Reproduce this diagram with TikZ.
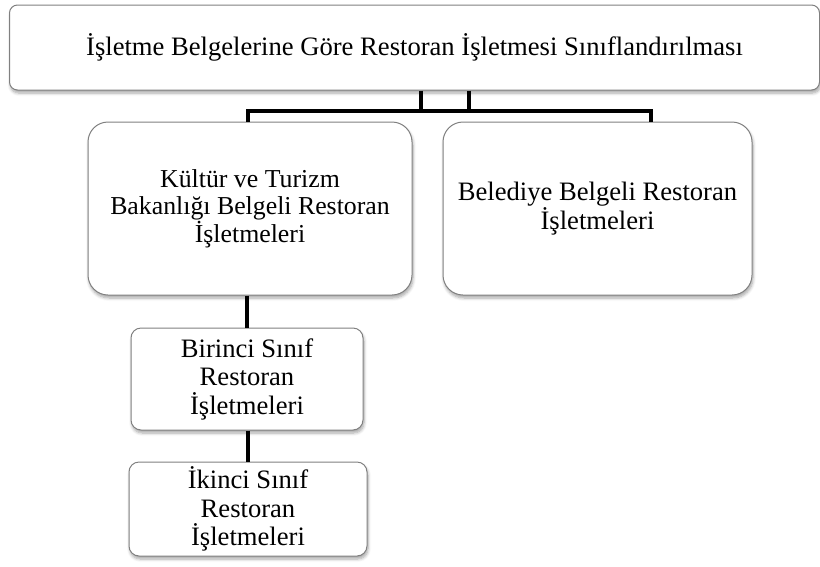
\documentclass[tikz,border=0pt]{standalone}
\usepackage{fontspec}
\setmainfont{Liberation Serif}
\usetikzlibrary{shadows.blur}
\begin{document}
\begin{tikzpicture}[x=1pt,y=-1pt,
  box/.style={draw=black!50, line width=1pt, fill=white, align=center, inner sep=0pt,
    font=\fontsize{26.6}{28.5}\selectfont,
    blur shadow={shadow xshift=1pt, shadow yshift=-3pt, shadow opacity=35, shadow blur steps=6, shadow blur radius=3pt}},
  conn/.style={line width=4.5pt, draw=black}]
\useasboundingbox (0,0) rectangle (820,566);
\node[box, rounded corners=8pt, minimum width=810pt, minimum height=85pt] (top) at (414.5,47.5) {İşletme Belgelerine Göre Restoran İşletmesi Sınıflandırılması};
\node[box, rounded corners=20pt, minimum width=324pt, minimum height=173pt, font=\fontsize{25.8}{27.5}\selectfont] (kb) at (250,208.5) {Kültür ve Turizm\\Bakanlığı Belgeli Restoran\\İşletmeleri};
\node[box, rounded corners=20pt, minimum width=309pt, minimum height=173pt] (bb) at (597.5,208.5) {Belediye Belgeli Restoran\\İşletmeleri};
\node[box, rounded corners=10pt, minimum width=232pt, minimum height=102pt] (b1) at (247,379) {Birinci Sınıf\\Restoran\\İşletmeleri};
\node[box, rounded corners=10pt, minimum width=238pt, minimum height=94pt] (b2) at (248,509) {İkinci Sınıf\\Restoran\\İşletmeleri};
\coordinate (j1) at (421,111);
\coordinate (j2) at (469,111);
\coordinate (jl) at (248,111);
\coordinate (jr) at (651,111);
\draw[conn] (top.south -| j1) -- (j1);
\draw[conn] (top.south -| j2) -- (j2);
\draw[conn] (kb.north -| jl) -- (jl) -- (jr) -- (bb.north -| jr);
\draw[conn] (kb.south -| b1.north) -- (b1.north);
\draw[conn] (b1.south -| b2.north) -- (b2.north);
\end{tikzpicture}
\end{document}
